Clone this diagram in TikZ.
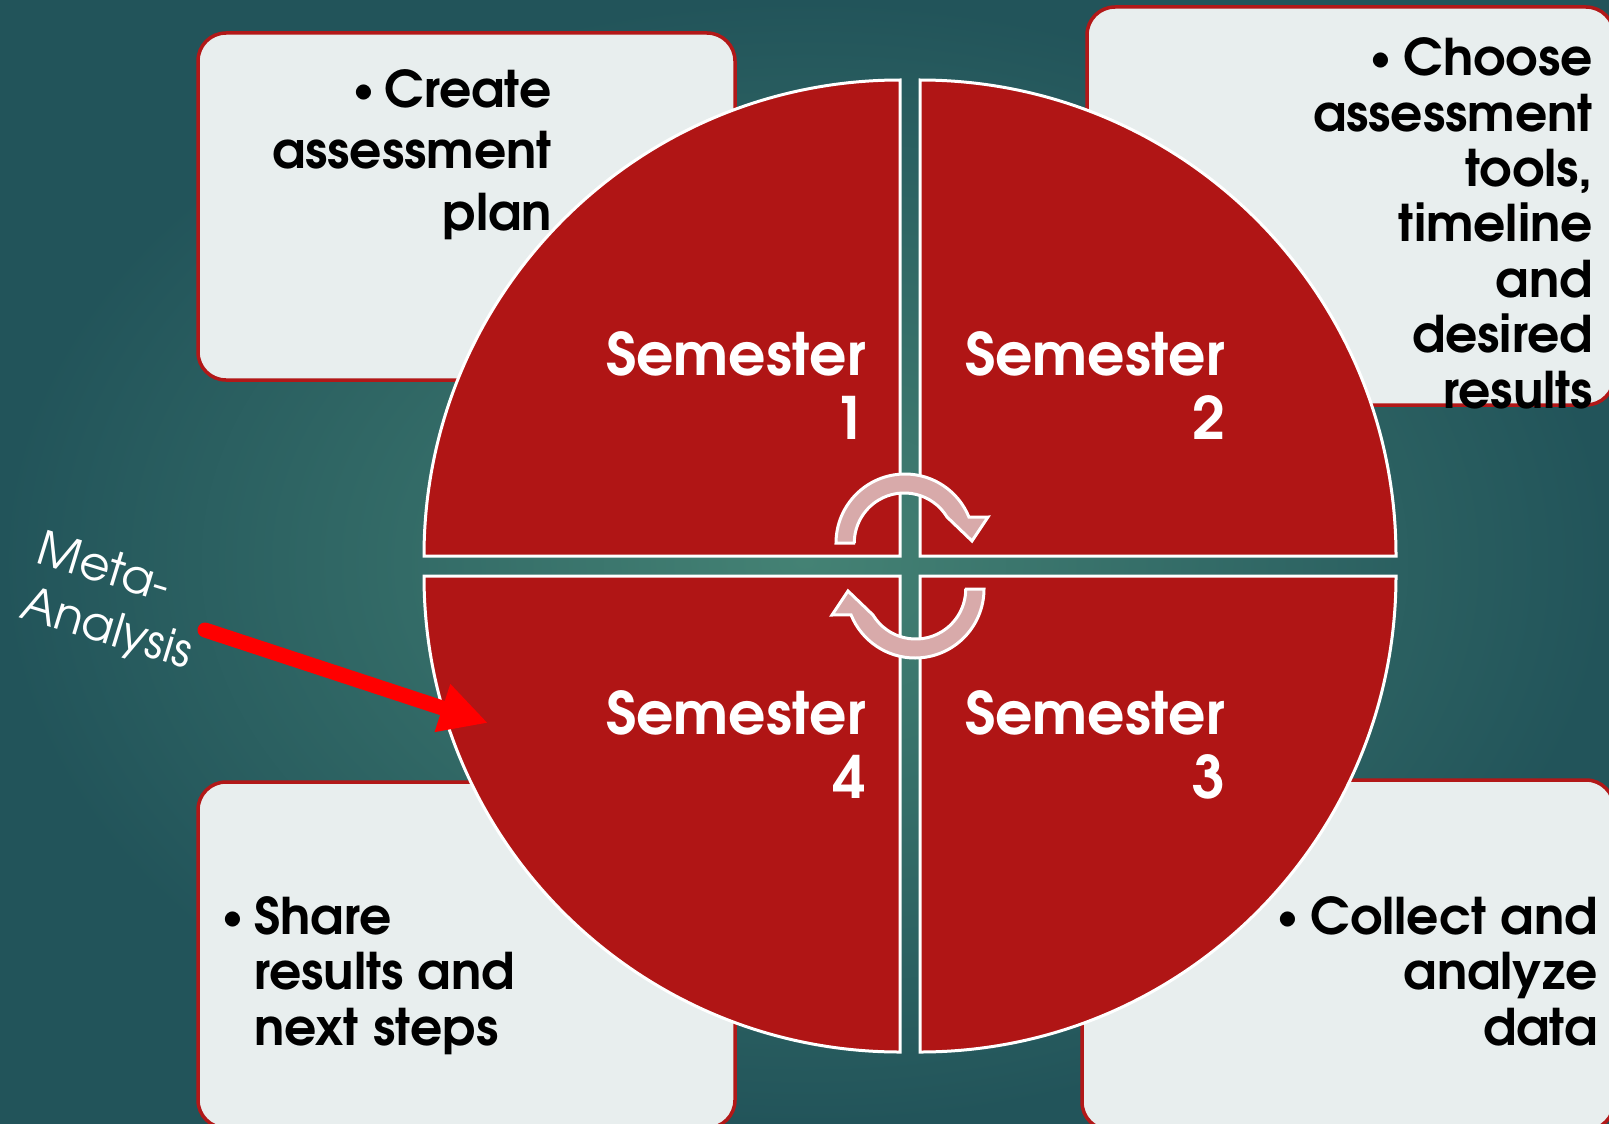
\documentclass[tikz,border=0pt]{standalone}
\usepackage{graphicx}
\usepackage{fontspec}
\setmainfont{texgyreadventor}[Extension=.otf, UprightFont=*-regular, BoldFont=*-bold, ItalicFont=*-italic, BoldItalicFont=*-bolditalic]
\usetikzlibrary{arrows.meta}
\definecolor{bgin}{RGB}{68,130,116}
\definecolor{bgout}{RGB}{34,84,90}
\definecolor{quadred}{RGB}{176,21,21}
\definecolor{boxfill}{RGB}{232,238,238}
\definecolor{boxline}{RGB}{178,24,24}
\definecolor{pinkarrow}{RGB}{216,170,170}
\newcommand{\mybul}{\raisebox{6pt}{\fontsize{36}{36}\selectfont\textbullet}}
\begin{document}
\begin{tikzpicture}[x=1pt,y=-1pt,
  quadrant/.style={fill=quadred, draw=white, line width=3pt},
  infobox/.style={fill=boxfill, draw=boxline, line width=3.5pt, rounded corners=28pt},
  semtext/.style={text=white, font=\bfseries\fontsize{58.5}{64}\selectfont, align=right, anchor=base east, inner sep=0pt},
  boxtext/.style={text=black, inner sep=0pt},
  cycarrow/.style={fill=pinkarrow, draw=white, line width=3pt, line join=miter},
  metaarrow/.style={draw=red, line width=15pt, line cap=round, -{Triangle[length=48pt,width=47pt]}}
]
\useasboundingbox (0,0) rectangle (1609,1124);
\shade[inner color=bgin, outer color=bgout] (0,0) rectangle (1609,1124);

% information boxes
\draw[infobox] (198,33) rectangle (735,380);
\draw[infobox] (1087,7) rectangle (1614,405);
\draw[infobox] (1082,780) rectangle (1614,1130);
\draw[infobox] (198,782) rectangle (735,1128);

\node[boxtext, font=\bfseries\fontsize{50.5}{61.5}\selectfont, align=right, anchor=base east] (t1) at (552,230) {\mybul\hspace{10pt}Create\\assessment\\plan};
\node[boxtext, font=\bfseries\fontsize{50.5}{55.4}\selectfont, align=right, anchor=base east] (t2) at (1593,408) {\mybul\hspace{13pt}Choose\\assessment\\tools,\\timeline\\and\\desired\\results};
\node[boxtext, font=\bfseries\fontsize{50.5}{55.5}\selectfont, align=right, anchor=base east] (t3) at (1598,1045) {\mybul\hspace{13pt}Collect and\\analyze\\data};
\node[boxtext, font=\bfseries\fontsize{50.5}{55.5}\selectfont, align=left, anchor=base west] (t4) at (254,1045) {\llap{\mybul\hspace{11pt}}Share\\results and\\next steps};

% quadrants
\path[quadrant] (900,556) -- ++(-476,0) arc[start angle=180, end angle=270, radius=476] -- cycle;
\path[quadrant] (920,556) -- ++(476,0) arc[start angle=0, end angle=-90, radius=476] -- cycle;
\path[quadrant] (920,576) -- ++(476,0) arc[start angle=0, end angle=90, radius=476] -- cycle;
\path[quadrant] (900,576) -- ++(-476,0) arc[start angle=180, end angle=90, radius=476] -- cycle;

\node[semtext] (s1) at (866,439) {Semester\\1};
\node[semtext] (s2) at (1225,439) {Semester\\2};
\node[semtext] (s3) at (1225,798) {Semester\\3};
\node[semtext] (s4) at (866,798) {Semester\\4};

% cycle arrows
\path[cycarrow] (855,543) -- (836,543) arc[start angle=180, end angle=338, radius=69] -- (988,517) -- (972,541) -- (947,517) arc[start angle=328.7, end angle=180, radius=50] -- cycle;
\begin{scope}[rotate around={180:(910,566)}]
\path[cycarrow] (855,543) -- (836,543) arc[start angle=180, end angle=338, radius=69] -- (988,517) -- (972,541) -- (947,517) arc[start angle=328.7, end angle=180, radius=50] -- cycle;
\end{scope}

% meta-analysis
\node[text=white, font=\fontsize{47}{57}\selectfont, align=left, anchor=base west, rotate=-17, inner sep=0pt] (meta) at (18,617) {Meta-\\Analysis};
\coordinate (mstart) at (205,630);
\coordinate (mtip) at (488,723);
\draw[metaarrow] (mstart) -- (mtip);
\end{tikzpicture}
\end{document}
